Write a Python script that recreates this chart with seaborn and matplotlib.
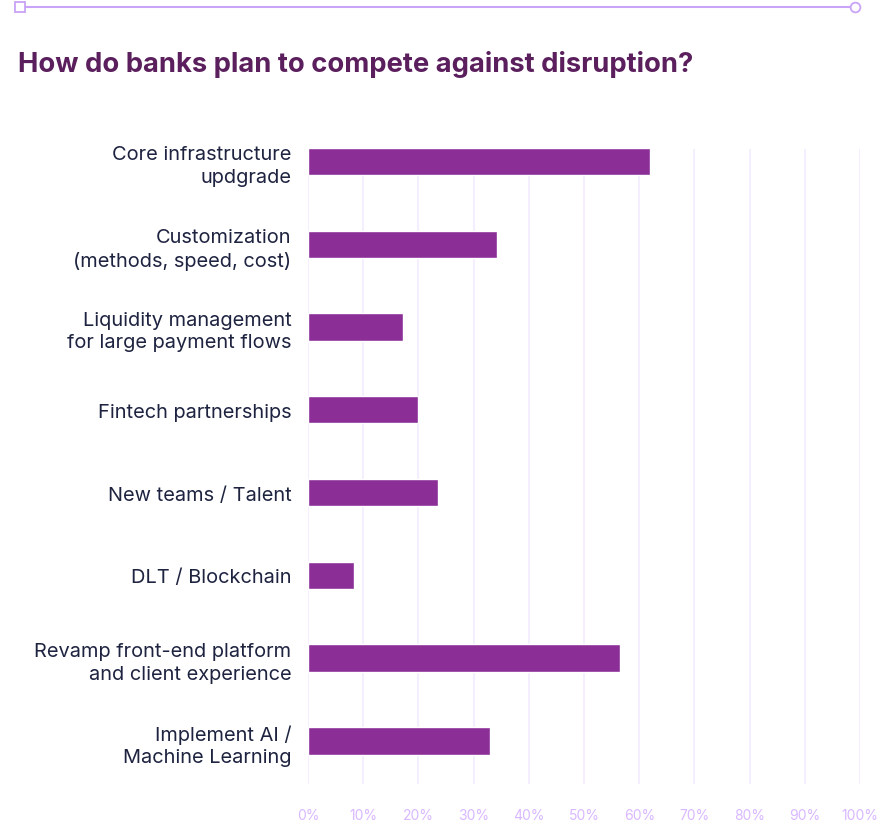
import matplotlib
matplotlib.use("Agg")
import matplotlib.pyplot as plt
import seaborn as sns
import pandas as pd
from matplotlib.lines import Line2D

categories = [
    "Core infrastructure\nupdgrade",
    "Customization\n(methods, speed, cost)",
    "Liquidity management\nfor large payment flows",
    "Fintech partnerships",
    "New teams / Talent",
    "DLT / Blockchain",
    "Revamp front-end platform\nand client experience",
    "Implement AI /\nMachine Learning",
]
values = [62, 34.3, 17.3, 20, 23.6, 8.3, 56.5, 33]
xticks = [0, 10, 20, 30, 40, 50, 60, 70, 80, 90, 100]
xtick_labels = [f"{t}%" for t in xticks]

title = "How do banks plan to compete against disruption?"

sns.set_theme(style="white")
plt.rcParams['font.family'] = ['Inter', 'DejaVu Sans']

df = pd.DataFrame({"category": categories, "value": values})

fig = plt.figure(figsize=(8.81, 8.28), dpi=100)
ax = fig.add_axes([308/881, 1 - 785/828, (860-308)/881, (785-150)/828])

sns.barplot(data=df, y="category", x="value", orient="h", color="#8B2F97",
            width=0.33, saturation=1, ax=ax, zorder=3)

ax.set_xlim(0, 100)
ax.set_ylim(7.52, -0.15)
ax.set_xticks(xticks)
ax.set_xticklabels(xtick_labels, color="#D9B8FF", fontsize=10)
ax.tick_params(axis="x", length=0, pad=17)
ax.tick_params(axis="y", length=0, pad=12)
for lbl in ax.get_yticklabels():
    lbl.set_color("#1E2340")
    lbl.set_fontsize(14.4)
    lbl.set_horizontalalignment("right")
    lbl.set_multialignment("right")
    lbl.set_linespacing(1.32)
ax.set_xlabel("")
ax.set_ylabel("")
ax.grid(axis="x", color="#F3EBFF", linewidth=1.2, zorder=0)
ax.grid(axis="y", visible=False)
for s in ax.spines.values():
    s.set_visible(False)

fig.text(18/881, 1 - 65/828, title, fontsize=19.7, fontweight="bold",
         color="#5A1F5C", va="center", ha="left")

# decorative top line
line = Line2D([20/881, 855/881], [1 - 8/828, 1 - 8/828], transform=fig.transFigure,
              color="#C9A3F7", linewidth=1.5)
fig.add_artist(line)
sq = Line2D([20/881], [1 - 8/828], transform=fig.transFigure, marker="s",
            markersize=7, markerfacecolor="white", markeredgecolor="#C9A3F7",
            markeredgewidth=1.3, linestyle="none")
fig.add_artist(sq)
ci = Line2D([855/881], [1 - 8/828], transform=fig.transFigure, marker="o",
            markersize=7, markerfacecolor="white", markeredgecolor="#C9A3F7",
            markeredgewidth=1.3, linestyle="none")
fig.add_artist(ci)

fig.savefig("out.png", dpi=100)
